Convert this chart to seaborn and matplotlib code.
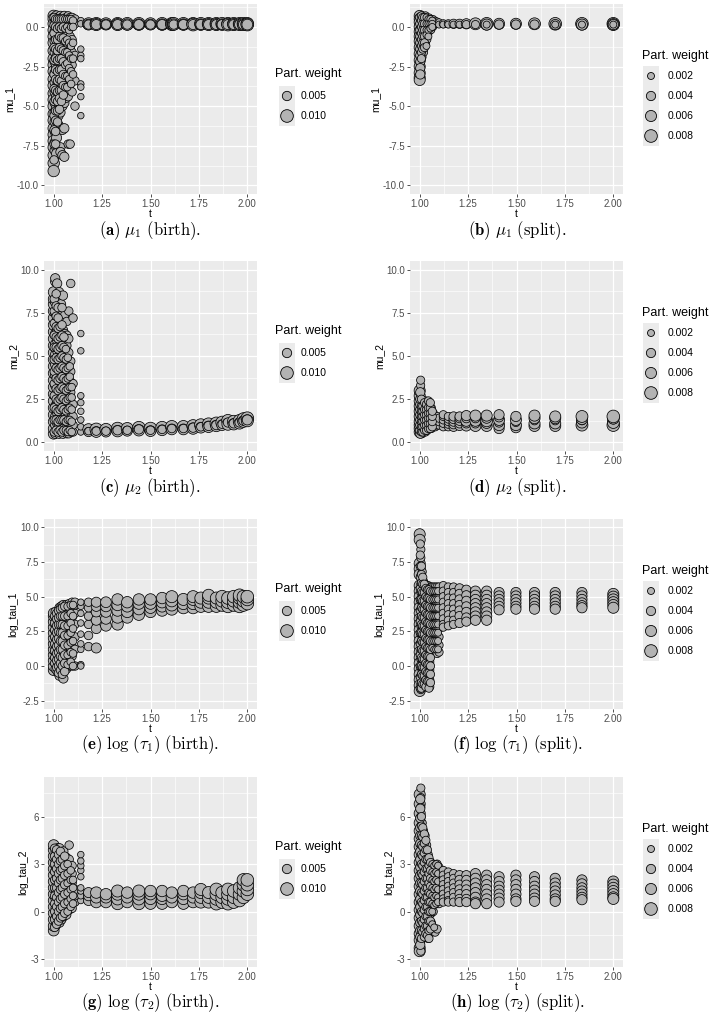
import pandas as pd
import matplotlib
matplotlib.use("Agg")
import matplotlib.pyplot as plt
from matplotlib.ticker import AutoMinorLocator, FormatStrFormatter
import seaborn as sns

# ---------------------------------------------------------------- data
# birth move, mu_1
T_A = [1.000, 1.005, 1.015, 1.025, 1.035, 1.045, 1.055, 1.065, 1.075, 1.085, 1.095, 1.11, 1.14,
       1.002, 1.010, 1.020, 1.030, 1.040, 1.050, 1.060, 1.070, 1.080, 1.090, 1.100,
       1.18, 1.22, 1.27, 1.33, 1.38, 1.44, 1.50, 1.56, 1.61, 1.62, 1.67, 1.72, 1.76, 1.80, 1.84,
       1.87, 1.90, 1.93, 1.96, 1.98, 2.00]
Y_A = [
    [0.7, 0.5, 0.2, -0.2, -0.6, -1.0, -1.5, -2.0, -2.4, -2.8, -3.3, -3.7, -4.2, -4.6, -5.0, -5.5,
     -5.9, -6.4, -6.8, -7.2, -7.6, -8.1, -8.6, -9.1],
    [0.6, 0.3, -0.3, -0.9, -1.6, -2.2, -2.9, -3.5, -4.1, -4.8, -5.4, -6.0, -6.6, -7.3, -7.8],
    [0.7, 0.4, 0.0, -0.6, -1.2, -1.9, -2.5, -3.1, -3.8, -4.4, -5.1, -5.7, -6.3, -7.0, -7.6, -8.0],
    [0.6, 0.2, -0.5, -1.1, -1.8, -2.4, -3.0, -3.7, -4.3, -4.9, -5.6, -6.2],
    [0.7, 0.3, -0.2, -0.9, -1.6, -2.3, -3.0, -3.6, -4.2, -4.8, -5.4, -6.4, -7.6, -7.9],
    [0.6, 0.2, -0.4, -1.0, -1.7, -2.4, -3.1, -3.7, -4.4, -5.0, -6.5, -8.1],
    [0.7, 0.3, -0.3, -1.1, -1.9, -2.6, -3.3, -4.0, -4.8, -6.4, -8.2],
    [0.6, 0.2, -0.5, -1.3, -2.1, -2.8, -3.5, -4.2, -4.5],
    [0.7, 0.3, -0.4, -1.2, -2.0, -2.7, -3.4, -4.1, -4.4, -7.4],
    [0.6, 0.2, -0.6, -1.4, -2.2, -3.0, -3.5, -4.0, -7.4],
    [0.6, 0.2, -0.8, -1.6, -2.4, -3.3, -4.1],
    [0.5, 0.2, -1.8, -3.4, -5.0],
    [0.4, 0.2, -1.4, -1.8, -2.0, -3.6, -3.8, -4.4, -5.6],
    [0.6, 0.1, -0.4, -1.3, -2.1, -3.0, -3.9, -4.7, -5.6, -6.5, -7.4, -8.4],
    [0.5, 0.0, -0.8, -1.4, -2.0, -2.7, -3.3, -4.0, -4.6, -5.3, -5.9, -6.6, -7.4],
    [0.5, -0.1, -0.8, -1.5, -2.1, -2.8, -3.4, -4.1, -4.7, -5.3, -6.0],
    [0.5, 0.0, -0.6, -1.3, -2.0, -2.7, -3.3, -4.0, -4.5, -5.2],
    [0.5, -0.1, -0.7, -1.4, -2.0, -2.7, -3.4, -4.0, -4.7],
    [0.5, 0.0, -0.7, -1.5, -2.2, -3.0, -3.7, -4.3],
    [0.5, -0.1, -0.9, -1.6, -2.4, -3.1, -3.8],
    [0.5, 0.0, -0.8, -1.6, -2.3, -3.1, -3.8],
    [0.5, -0.2, -1.0, -1.8, -2.6, -3.3],
    [0.5, 0.0, -1.2, -2.0, -2.8, -3.6],
    [0.4, 0.0, -1.0, -2.0, -3.0],
    [0.2, 0.15, 0.15], [0.2, 0.15, 0.15], [0.2, 0.15, 0.15], [0.2, 0.15, 0.15],
    [0.2, 0.15, 0.15], [0.2, 0.15, 0.15], [0.2, 0.15, 0.15], [0.2, 0.15, 0.15],
    [0.2, 0.15, 0.15], [0.2, 0.15, 0.15], [0.2, 0.15, 0.15], [0.2, 0.15, 0.15],
    [0.2, 0.15, 0.15], [0.2, 0.15, 0.15], [0.2, 0.15, 0.15], [0.2, 0.15, 0.15],
    [0.2, 0.15, 0.15], [0.2, 0.15, 0.15], [0.2, 0.15, 0.15], [0.2, 0.15, 0.15],
    [0.2, 0.15, 0.15],
]
W_A = [0.008, 0.005, 0.006, 0.005, 0.005, 0.005, 0.005, 0.004, 0.004, 0.004, 0.004, 0.004, 0.002,
       0.004, 0.004, 0.004, 0.004, 0.004, 0.004, 0.003, 0.003, 0.003, 0.003, 0.003,
       [0.009, 0.007, 0.005], [0.011, 0.009, 0.006], [0.009, 0.007, 0.005],
       [0.011, 0.009, 0.006], [0.010, 0.008, 0.005], [0.010, 0.008, 0.006],
       [0.009, 0.007, 0.005], [0.010, 0.008, 0.006], [0.011, 0.009, 0.006],
       [0.010, 0.008, 0.005], [0.010, 0.008, 0.006], [0.013, 0.010, 0.006],
       [0.010, 0.008, 0.006], [0.011, 0.009, 0.006], [0.011, 0.009, 0.006],
       [0.010, 0.008, 0.006], [0.013, 0.010, 0.006], [0.011, 0.009, 0.006],
       [0.012, 0.009, 0.006], [0.011, 0.009, 0.006], [0.012, 0.010, 0.007]]

# split move, mu_1
T_B = [1.000, 1.005, 1.012, 1.02, 1.03, 1.04, 1.05, 1.06, 1.07, 1.08, 1.09, 1.10,
       1.003, 1.009, 1.016, 1.025, 1.035, 1.045, 1.055, 1.065,
       1.122, 1.148, 1.175, 1.206, 1.241, 1.288, 1.346, 1.41, 1.497, 1.593, 1.70, 1.838, 2.0]
Y_B = [
    [0.7, 0.5, 0.3, 0.0, -0.3, -0.6, -0.9, -1.3, -1.7, -2.1, -2.5, -2.9, -3.2, -3.35],
    [0.6, 0.3, -0.1, -0.5, -1.0, -1.4, -1.8],
    [0.7, 0.4, 0.1, -0.3, -0.7, -1.1, -1.5, -1.9],
    [0.6, 0.3, 0.0, -0.4, -0.8, -1.2, -1.6],
    [0.7, 0.4, 0.1, -0.3, -0.7, -1.0],
    [0.6, 0.3, 0.0, -0.4, -0.8],
    [0.6, 0.3, 0.0, -0.3],
    [0.5, 0.2, -0.2],
    [0.5, 0.2, 0.0],
    [0.4, 0.2],
    [0.35, 0.2],
    [0.3, 0.15],
    [0.6, 0.2, -0.2, -0.6, -1.0, -1.4, -1.8, -2.2, -2.6, -3.0],
    [0.7, 0.4, 0.0, -0.4, -0.8, -1.2, -1.6, -2.0],
    [0.6, 0.2, -0.2, -0.6, -1.0, -1.4],
    [0.6, 0.2, -0.2, -0.6, -1.0, -1.3],
    [0.6, 0.2, -0.2, -0.5, -1.2],
    [0.5, 0.2, -0.2, -0.6],
    [0.5, 0.2, -0.1],
    [0.4, 0.2, 0.0],
    [0.2, 0.15], [0.2, 0.15], [0.2, 0.15], [0.2, 0.15], [0.2, 0.15], [0.2, 0.15],
    [0.2, 0.15, 0.15], [0.2, 0.15], [0.2, 0.15], [0.2, 0.15], [0.2, 0.15, 0.15],
    [0.2, 0.15, 0.15], [0.2, 0.15, 0.15, 0.15],
]
W_B = [0.006, 0.003, 0.003, 0.003, 0.003, 0.002, 0.002, 0.002, 0.002, 0.002, 0.002, 0.002,
       0.004, 0.003, 0.003, 0.003, 0.002, 0.002, 0.002, 0.002,
       [0.003, 0.002], [0.003, 0.002], [0.004, 0.002], [0.004, 0.002], [0.005, 0.003],
       [0.007, 0.003], [0.009, 0.006, 0.002], [0.006, 0.004], [0.006, 0.004], [0.007, 0.004],
       [0.008, 0.005, 0.002], [0.008, 0.006, 0.002], [0.009, 0.007, 0.005, 0.002]]

# birth move, mu_2
T_C = [1.000, 1.008, 1.018, 1.028, 1.038, 1.048, 1.058, 1.068, 1.078, 1.088, 1.10, 1.14,
       1.003, 1.013, 1.023, 1.033, 1.043, 1.053, 1.063, 1.073, 1.083, 1.093,
       1.18, 1.22, 1.27, 1.33, 1.38, 1.44, 1.50, 1.56, 1.61, 1.67, 1.72, 1.76, 1.80, 1.84,
       1.87, 1.90, 1.93, 1.96, 1.98, 2.00]
Y_C = [
    [0.5, 0.8, 1.2, 1.6, 2.0, 2.4, 2.8, 3.2, 3.6, 4.0, 4.4, 4.8, 5.2, 5.6, 6.0, 6.4, 6.8, 7.2,
     7.6, 8.0, 8.3, 8.7],
    [0.5, 1.0, 1.5, 2.1, 2.7, 3.3, 3.9, 4.5, 5.1, 5.7, 6.3, 6.9, 7.5, 8.1, 9.3, 9.5],
    [0.6, 1.1, 1.7, 2.3, 2.9, 3.5, 4.1, 4.7, 5.3, 5.9, 6.5, 7.1, 7.7, 8.4, 9.2],
    [0.5, 0.9, 1.4, 2.0, 2.6, 3.2, 3.8, 4.4, 5.0, 5.6, 6.2, 6.8, 7.4, 8.7],
    [0.6, 1.0, 1.6, 2.2, 2.8, 3.4, 4.0, 4.6, 5.2, 5.8, 6.4, 7.0, 7.6, 8.0],
    [0.5, 1.1, 1.7, 2.3, 2.9, 3.5, 4.1, 4.7, 5.3, 5.9, 6.5, 7.1, 8.5],
    [0.6, 1.0, 1.5, 2.1, 2.7, 3.3, 3.9, 4.5, 5.1, 5.7, 6.3, 7.4],
    [0.5, 0.9, 1.4, 2.0, 2.6, 3.2, 3.8, 4.4, 5.0, 5.6, 6.2, 7.0],
    [0.5, 1.0, 1.6, 2.2, 2.8, 3.4, 4.0, 4.6, 5.2, 6.0, 7.6],
    [0.6, 1.1, 1.7, 2.3, 2.9, 3.5, 4.1, 4.7, 9.2],
    [0.6, 1.0, 1.5, 2.2, 3.4, 7.2],
    [0.6, 0.9, 1.3, 1.8, 2.3, 2.7, 5.3, 6.3],
    [0.6, 1.3, 2.0, 2.7, 3.4, 4.1, 4.8, 5.5, 6.2, 6.9, 7.6, 8.3],
    [0.7, 1.3, 1.9, 2.5, 3.1, 3.7, 4.3, 4.9, 5.5, 6.1, 6.7, 7.3, 7.9, 8.6],
    [0.6, 1.2, 1.8, 2.4, 3.0, 3.6, 4.2, 4.8, 5.4, 6.0, 6.6, 7.2, 7.8],
    [0.7, 1.3, 1.9, 2.5, 3.1, 3.7, 4.3, 4.9, 5.5, 6.1, 6.7],
    [0.6, 1.3, 2.0, 2.6, 3.2, 3.8, 4.4, 5.0, 5.6, 6.2, 6.8, 7.8],
    [0.7, 1.3, 1.9, 2.5, 3.1, 3.7, 4.3, 4.9, 5.5, 6.1],
    [0.7, 1.2, 1.8, 2.4, 3.0, 3.6, 4.2, 4.8, 5.4],
    [0.6, 1.3, 1.9, 2.5, 3.1, 3.7, 4.3, 4.9],
    [0.7, 1.3, 2.0, 2.6, 3.2, 3.8, 4.4],
    [0.6, 1.2, 1.9, 2.6, 3.2],
    [0.75, 0.6, 0.65], [0.75, 0.6, 0.65], [0.75, 0.6, 0.65], [0.8, 0.65, 0.7],
    [0.8, 0.65, 0.7], [0.85, 0.7, 0.75], [0.8, 0.65, 0.7], [0.85, 0.7, 0.75],
    [0.9, 0.75, 0.8], [0.9, 0.75, 0.8], [0.95, 0.8, 0.85], [1.0, 0.85, 0.9],
    [1.05, 0.9, 0.95], [1.1, 0.95, 1.0], [1.15, 1.0, 1.05], [1.25, 1.05, 1.15],
    [1.2, 1.05, 1.1], [1.25, 1.1, 1.15], [1.35, 1.2, 1.25], [1.4, 1.25, 1.3],
]
W_C = [0.007, 0.005, 0.005, 0.005, 0.005, 0.005, 0.004, 0.004, 0.004, 0.004, 0.004, 0.002,
       0.004, 0.004, 0.004, 0.004, 0.004, 0.004, 0.003, 0.003, 0.003, 0.003,
       [0.008, 0.005, 0.003], [0.010, 0.007, 0.004], [0.009, 0.006, 0.004],
       [0.011, 0.008, 0.005], [0.009, 0.006, 0.004], [0.011, 0.008, 0.005],
       [0.010, 0.007, 0.004], [0.010, 0.007, 0.004], [0.010, 0.007, 0.004],
       [0.010, 0.007, 0.004], [0.011, 0.008, 0.005], [0.010, 0.007, 0.004],
       [0.011, 0.008, 0.005], [0.011, 0.008, 0.005], [0.010, 0.007, 0.004],
       [0.014, 0.009, 0.005], [0.011, 0.008, 0.005], [0.012, 0.008, 0.005],
       [0.012, 0.008, 0.005], [0.012, 0.009, 0.006]]

# split move, mu_2
T_D = T_B
Y_D = [
    [0.6, 0.8, 1.0, 1.2, 1.5, 1.8, 2.1, 2.4, 2.7, 3.0],
    [0.5, 0.7, 0.9, 1.2, 1.5, 1.8, 2.1, 3.3, 3.6],
    [0.5, 0.8, 1.1, 1.4, 1.7, 2.0, 2.4],
    [0.6, 0.9, 1.2, 1.5, 1.8, 2.2],
    [0.6, 0.9, 1.2, 1.5, 1.8, 2.4],
    [0.7, 1.0, 1.3, 1.6, 1.9, 2.2],
    [0.8, 1.0, 1.3, 1.6, 1.9, 2.3],
    [0.8, 1.1, 1.4, 1.7, 2.0],
    [0.9, 1.1, 1.4, 1.7],
    [0.9, 1.2, 1.5],
    [1.0, 1.2, 1.5],
    [1.0, 1.2, 1.4],
    [0.5, 0.7, 1.0, 1.3, 1.6, 1.9, 2.2, 2.5, 2.9],
    [0.6, 0.9, 1.2, 1.5, 1.8, 2.1, 2.5],
    [0.6, 0.9, 1.2, 1.5, 1.8, 2.1],
    [0.7, 1.0, 1.3, 1.6, 1.9, 2.3],
    [0.7, 1.0, 1.3, 1.6, 1.9, 2.2],
    [0.8, 1.1, 1.4, 1.7, 2.0, 2.4],
    [0.8, 1.1, 1.4, 1.7, 2.0, 2.3],
    [0.9, 1.2, 1.5, 1.8],
    [0.9, 1.1, 1.3, 1.5, 1.6], [0.9, 1.05, 1.2, 1.35, 1.5], [0.9, 1.05, 1.2, 1.35, 1.5],
    [0.95, 1.1, 1.25, 1.4, 1.5], [0.95, 1.1, 1.25, 1.4, 1.55], [0.95, 1.1, 1.25, 1.4, 1.55],
    [0.95, 1.1, 1.25, 1.4, 1.55], [0.8, 1.0, 1.15, 1.3, 1.45, 1.6],
    [0.85, 1.0, 1.15, 1.3, 1.5], [0.95, 1.1, 1.25, 1.4, 1.55], [0.95, 1.1, 1.25, 1.4, 1.5],
    [1.0, 1.15, 1.25, 1.35, 1.5], [1.0, 1.15, 1.3, 1.4, 1.5],
]
W_D = [0.006, 0.003, 0.003, 0.003, 0.003, 0.003, 0.003, 0.003, 0.003, 0.003, 0.003, 0.003,
       0.004, 0.003, 0.003, 0.003, 0.003, 0.003, 0.003, 0.003,
       0.003, 0.003, 0.004, 0.004, [0.005, 0.004, 0.006, 0.004, 0.005],
       [0.006, 0.004, 0.006, 0.004, 0.006], [0.006, 0.005, 0.007, 0.005, 0.006],
       [0.005, 0.006, 0.004, 0.006, 0.004, 0.005], [0.005, 0.006, 0.003, 0.006, 0.005],
       [0.006, 0.006, 0.003, 0.006, 0.006], [0.006, 0.006, 0.003, 0.006, 0.006],
       [0.007, 0.006, 0.003, 0.006, 0.007], [0.008, 0.007, 0.003, 0.007, 0.008]]

# birth move, log_tau_1
T_E = [1.000, 1.01, 1.02, 1.03, 1.04, 1.05, 1.065, 1.08, 1.095, 1.11, 1.14,
       1.005, 1.015, 1.025, 1.035, 1.045, 1.057, 1.072, 1.088, 1.10,
       1.18, 1.22, 1.27, 1.33, 1.38, 1.44, 1.50, 1.56, 1.61, 1.67, 1.72, 1.76, 1.80, 1.84,
       1.87, 1.90, 1.93, 1.96, 1.98, 2.00]
Y_E = [
    [-0.3, 0.0, 0.4, 0.8, 1.2, 1.6, 2.0, 2.4, 2.8, 3.2, 3.6, 3.8],
    [-0.2, 0.2, 0.6, 1.0, 1.5, 2.0, 2.5, 3.0, 3.5, 3.9],
    [-0.4, 0.1, 0.6, 1.1, 1.6, 2.1, 2.6, 3.1, 3.6],
    [-0.7, -0.2, 0.3, 0.8, 1.4, 2.0, 2.6, 3.2, 3.8, 4.2],
    [-0.5, 0.2, 0.8, 1.4, 2.0, 2.6, 3.2, 3.8, 4.3],
    [-0.9, -0.3, 0.4, 1.0, 1.7, 2.4, 3.1, 3.8, 4.4],
    [-0.2, 0.4, 1.1, 1.8, 2.5, 3.2, 3.9, 4.4],
    [0.0, 0.7, 1.4, 2.1, 2.8, 3.5, 4.2, 4.5],
    [0.0, 0.7, 1.4, 2.1, 2.8, 3.5, 4.2, 4.6],
    [0.0, 1.2, 2.1, 3.0, 3.8, 4.4, 4.6],
    [0.1, 0.0, 1.2, 1.6, 2.3, 3.1, 3.8, 4.3, 4.6],
    [0.2, 0.6, 1.1, 1.6, 2.1, 2.6, 3.1, 3.6],
    [-0.1, 0.4, 0.9, 1.4, 1.9, 2.4, 2.9, 3.4, 3.8],
    [-0.5, 0.0, 0.5, 1.0, 1.5, 2.0, 2.5, 3.0, 3.5, 4.0],
    [-0.3, 0.2, 0.7, 1.2, 1.8, 2.4, 3.0, 3.6, 4.1],
    [-0.6, 0.0, 0.6, 1.2, 1.8, 2.4, 3.0, 3.6, 4.2],
    [-0.4, 0.2, 0.8, 1.5, 2.2, 2.9, 3.6, 4.3],
    [0.1, 0.8, 1.5, 2.2, 2.9, 3.6, 4.3],
    [0.3, 1.0, 1.7, 2.4, 3.1, 3.8, 4.4],
    [0.0, 0.9, 1.8, 2.7, 3.6, 4.4],
    [1.4, 2.2, 3.0, 3.6, 4.2, 4.6],
    [1.3, 2.7, 3.3, 3.9, 4.3, 4.6],
    [2.9, 3.4, 3.9, 4.3, 4.6],
    [3.0, 3.5, 4.0, 4.4, 4.8],
    [3.5, 3.9, 4.3, 4.6],
    [3.7, 4.1, 4.5, 4.8],
    [3.9, 4.2, 4.5, 4.8],
    [4.0, 4.3, 4.6, 4.9],
    [4.1, 4.4, 4.7, 5.0],
    [4.2, 4.5, 4.8],
    [4.2, 4.5, 4.8, 5.0],
    [4.3, 4.6, 4.9],
    [4.3, 4.6, 4.9, 5.1],
    [4.3, 4.6, 4.9],
    [4.4, 4.7, 5.0],
    [4.3, 4.6, 4.9],
    [4.4, 4.7, 5.0],
    [4.3, 4.6, 4.9, 5.1],
    [4.4, 4.7, 5.0],
    [4.5, 4.8, 5.0],
]
W_E = [0.007, 0.005, 0.005, 0.005, 0.005, 0.005, 0.005, 0.004, 0.004, 0.004, 0.002,
       0.004, 0.004, 0.004, 0.004, 0.004, 0.004, 0.003, 0.003, 0.003,
       0.004, 0.006, 0.007, 0.008, 0.008, 0.008, 0.008, 0.008, 0.009, 0.009, 0.009, 0.009,
       0.009, 0.009, 0.010, 0.010, 0.010, 0.010, 0.010, 0.011]

# split move, log_tau_1
T_F = [1.000, 1.006, 1.013, 1.02, 1.028, 1.036, 1.044, 1.052, 1.06, 1.07, 1.08, 1.09, 1.10,
       1.003, 1.009, 1.016, 1.024, 1.032, 1.040, 1.048, 1.056, 1.065, 1.075, 1.085, 1.095,
       1.122, 1.148, 1.175, 1.206, 1.241, 1.288, 1.346, 1.41, 1.497, 1.593, 1.70, 1.838, 2.0]
Y_F = [
    [9.5, 9.1, 7.4, 7.0, 6.6, 5.8, 5.4, 5.0, 4.6, 4.2, 3.8, 3.4, 3.0, 2.6, 2.2, 1.8, 1.4, 1.0,
     0.6, 0.2, -0.2, -0.6, -1.0, -1.4, -1.8],
    [8.4, 7.8, 7.2, 6.5, 5.9, 5.3, 4.7, 4.1, 3.5, 2.9, 2.3, 1.7, 1.1, 0.5, -0.1, -0.7, -1.3, -1.7],
    [6.8, 6.2, 5.6, 5.0, 4.4, 3.8, 3.2, 2.6, 2.0, 1.4, 0.8, 0.2, -0.4, -1.0, -1.5],
    [6.1, 5.6, 5.0, 4.4, 3.8, 3.2, 2.6, 2.0, 1.4, 0.8, 0.2, -0.4, -1.0, -1.5],
    [5.9, 5.3, 4.7, 4.1, 3.5, 2.9, 2.3, 1.7, 1.1, 0.5, -0.1, -0.7, -1.3],
    [5.8, 5.2, 4.6, 4.0, 3.4, 2.8, 2.2, 1.6, 1.0, 0.4, -0.2, -0.8, -1.4],
    [5.8, 5.2, 4.6, 4.0, 3.4, 2.8, 2.2, 1.6, 1.0, 0.4, -0.2, -0.8, -1.4],
    [5.7, 5.1, 4.5, 3.9, 3.3, 2.7, 2.1, 1.5, 0.9, 0.3, -0.3, -1.0, -1.5],
    [5.7, 5.1, 4.5, 3.9, 3.3, 2.7, 2.1, 1.5, 1.0],
    [5.7, 5.1, 4.5, 3.9, 3.3, 2.7, 2.1, 1.5],
    [5.7, 5.1, 4.5, 3.9, 3.3, 2.7, 2.1, 1.5, 1.1],
    [5.7, 5.1, 4.5, 3.9, 3.3, 2.7, 2.1, 1.5, 0.9],
    [5.7, 5.1, 4.5, 3.9, 3.3, 2.7, 2.1, 1.5, 1.0],
    [8.8, 8.0, 7.2, 6.4, 5.6, 4.8, 4.0, 3.2, 2.4, 1.6, 0.8, 0.0, -0.8, -1.6],
    [7.2, 6.6, 6.0, 5.4, 4.8, 4.2, 3.6, 3.0, 2.4, 1.8, 1.2, 0.6, 0.0, -0.6, -1.2, -1.6],
    [6.4, 5.9, 5.3, 4.7, 4.1, 3.5, 2.9, 2.3, 1.7, 1.1, 0.5, -0.1, -0.7, -1.3],
    [5.9, 5.3, 4.7, 4.1, 3.5, 2.9, 2.3, 1.7, 1.1, 0.5, -0.1, -0.7, -1.3],
    [5.6, 5.0, 4.4, 3.8, 3.2, 2.6, 2.0, 1.4, 0.8, 0.2, -0.4, -1.0, -1.5],
    [5.5, 4.9, 4.3, 3.7, 3.1, 2.5, 1.9, 1.3, 0.7, 0.1, -0.5, -1.1],
    [5.5, 4.9, 4.3, 3.7, 3.1, 2.5, 1.9, 1.3, 0.7, 0.1, -0.5, -1.1, -1.6],
    [5.4, 4.8, 4.2, 3.6, 3.0, 2.4, 1.8, 1.2, 0.6, 0.0, -0.6, -1.2],
    [5.4, 4.8, 4.2, 3.6, 3.0, 2.4, 1.8, 1.3],
    [5.4, 4.8, 4.2, 3.6, 3.0, 2.4, 1.8, 1.2],
    [5.4, 4.8, 4.2, 3.6, 3.0, 2.4, 1.8, 1.2],
    [5.4, 4.8, 4.2, 3.6, 3.0, 2.4, 1.8, 1.2],
    [5.8, 5.4, 5.0, 4.6, 4.2, 3.8, 3.4, 3.0, 2.8],
    [5.7, 5.3, 4.9, 4.5, 4.1, 3.7, 3.3, 2.9],
    [5.7, 5.3, 4.9, 4.5, 4.1, 3.7, 3.3, 3.0],
    [5.6, 5.2, 4.8, 4.4, 4.0, 3.6, 3.1],
    [5.5, 5.1, 4.7, 4.3, 3.9, 3.5, 3.2],
    [5.4, 5.1, 4.8, 4.5, 4.2, 3.9, 3.6, 3.3],
    [5.4, 5.1, 4.8, 4.5, 4.2, 3.9, 3.6, 3.3],
    [5.3, 5.05, 4.8, 4.55, 4.3, 4.05],
    [5.3, 5.05, 4.8, 4.55, 4.3, 4.1],
    [5.3, 5.05, 4.8, 4.55, 4.3, 4.1],
    [5.3, 5.05, 4.8, 4.55, 4.3, 4.1],
    [5.3, 5.05, 4.8, 4.55, 4.35, 4.2],
    [5.2, 5.0, 4.8, 4.6, 4.4, 4.2],
]
W_F = [0.006, 0.003, 0.003, 0.003, 0.003, 0.003, 0.003, 0.003, 0.003, 0.003, 0.003, 0.003, 0.003,
       0.003, 0.003, 0.003, 0.003, 0.003, 0.003, 0.003, 0.003, 0.002, 0.002, 0.002, 0.002,
       0.003, 0.003, 0.003, 0.004, 0.004, 0.005, 0.005, 0.005, 0.005, 0.005, 0.005, 0.005, 0.006]

# birth move, log_tau_2
T_G = [1.000, 1.01, 1.02, 1.03, 1.04, 1.05, 1.065, 1.08, 1.095, 1.11, 1.14,
       1.005, 1.015, 1.025, 1.035, 1.045, 1.057, 1.072, 1.088, 1.10,
       1.18, 1.22, 1.27, 1.33, 1.38, 1.44, 1.50, 1.56, 1.61, 1.67, 1.72, 1.76, 1.80, 1.84,
       1.87, 1.90, 1.93, 1.96, 1.98, 2.00]
Y_G = [
    [-1.2, -0.9, -0.5, -0.1, 0.3, 0.7, 1.1, 1.5, 1.9, 2.3, 2.7, 3.1, 3.5, 3.9, 4.2],
    [-0.9, -0.4, 0.2, 0.8, 1.4, 2.0, 2.6, 3.2, 3.8],
    [-0.6, -0.1, 0.5, 1.1, 1.7, 2.3, 2.9, 3.5, 4.0],
    [-0.7, -0.2, 0.4, 1.0, 1.6, 2.2, 2.8, 3.4, 4.0],
    [-0.5, 0.1, 0.7, 1.3, 1.9, 2.5, 3.1, 3.7],
    [-0.3, 0.3, 0.9, 1.5, 2.1, 2.7, 3.3, 3.8],
    [-0.2, 0.4, 1.0, 1.6, 2.2, 2.8, 3.4],
    [0.1, 0.6, 1.1, 1.7, 2.3, 2.9, 3.3, 4.2],
    [0.2, 0.7, 1.2, 1.8, 2.4, 2.9],
    [0.6, 1.0, 1.4],
    [0.7, 1.0, 1.3, 1.5, 2.2, 2.6, 2.9, 3.2, 3.6],
    [-1.0, -0.5, 0.0, 0.5, 1.0, 1.5, 2.0, 2.5, 3.0, 3.5, 4.0],
    [-0.8, -0.3, 0.3, 0.9, 1.5, 2.1, 2.7, 3.3, 3.9],
    [-0.6, 0.0, 0.6, 1.2, 1.8, 2.4, 3.0, 3.6],
    [-0.4, 0.2, 0.8, 1.4, 2.0, 2.6, 3.2, 3.8],
    [-0.3, 0.3, 0.9, 1.5, 2.1, 2.7, 3.3],
    [-0.1, 0.5, 1.1, 1.7, 2.3, 2.9, 3.5],
    [0.0, 0.6, 1.2, 1.8, 2.4, 3.0],
    [0.3, 0.8, 1.4, 2.0, 2.6],
    [0.5, 1.0, 1.5, 2.0],
    [0.7, 1.0, 1.2], [0.6, 0.9, 1.2], [0.6, 0.9, 1.1], [0.5, 0.8, 1.1, 1.3], [0.6, 0.9, 1.2],
    [0.5, 0.8, 1.1, 1.3], [0.5, 0.8, 1.1, 1.3], [0.5, 0.8, 1.0, 1.3], [0.6, 0.9, 1.2],
    [0.5, 0.8, 1.1, 1.3], [0.6, 0.9, 1.2], [0.6, 0.9, 1.2, 1.4], [0.6, 0.9, 1.2],
    [0.5, 0.8, 1.1, 1.4], [0.6, 0.9, 1.2], [0.5, 0.8, 1.1, 1.4], [0.6, 0.9, 1.3],
    [0.7, 1.1, 1.5], [0.9, 1.3, 1.7, 2.0], [1.1, 1.4, 1.7, 2.0],
]
W_G = [0.007, 0.005, 0.005, 0.005, 0.005, 0.005, 0.005, 0.004, 0.004, 0.004, 0.002,
       0.004, 0.004, 0.004, 0.004, 0.004, 0.004, 0.003, 0.003, 0.003,
       0.006, 0.008, 0.008, 0.009, 0.008, 0.009, 0.008, 0.008, 0.008, 0.008, 0.008, 0.009,
       0.009, 0.010, 0.010, 0.010, 0.010, 0.010, 0.010, 0.011]

# split move, log_tau_2
T_H = T_F
Y_H = [
    [7.4, 6.8, 6.2, 5.6, 5.1, 4.6, 4.1, 3.6, 3.1, 2.6, 2.1, 1.6, 1.1, 0.6, 0.1, -0.4, -0.9,
     -1.4, -1.8, -2.3, -2.5],
    [7.8, 7.2, 6.6, 6.0, 5.4, 4.8, 4.2, 3.6, 3.0, 2.4, 1.8, 1.2, 0.6, 0.0, -0.6, -1.2, -1.8, -2.5],
    [5.6, 5.0, 4.4, 3.8, 3.2, 2.6, 2.0, 1.4, 0.8, 0.2, -0.4, -1.0, -1.6],
    [5.1, 4.5, 3.9, 3.3, 2.7, 2.1, 1.5, 0.9, 0.3, -0.3, -0.9, -1.5],
    [4.8, 4.2, 3.6, 3.0, 2.4, 1.8, 1.2, 0.6, 0.0, -0.6, -1.2],
    [4.2, 3.6, 3.0, 2.4, 1.8, 1.2, 0.6, 0.0, -0.6, -1.3],
    [3.6, 3.1, 2.5, 1.9, 1.3, 0.7, 0.1, -0.5, -1.1, -1.7],
    [3.2, 2.7, 2.2, 1.6, 1.0, 0.4, -0.2, -0.8, -1.4],
    [3.0, 2.5, 2.0, 1.5, 1.0, 0.5, -0.1, -0.7],
    [3.0, 2.5, 2.0, 1.5, 1.0, 0.5, 0.0, -1.2],
    [2.9, 2.4, 1.9, 1.4, 0.9, 0.5, -1.3],
    [3.0, 2.5, 2.0, 1.5, 1.0, 0.5, -1.1],
    [2.8, 2.3, 1.8, 1.3, 0.8, 0.5],
    [7.1, 6.5, 5.9, 5.3, 4.8, 4.3, 3.8, 3.3, 2.8, 2.3, 1.8, 1.3, 0.8, 0.3, -0.2, -0.7, -1.2,
     -1.6, -2.1],
    [6.0, 5.4, 4.8, 4.2, 3.6, 3.0, 2.4, 1.8, 1.2, 0.6, 0.0, -0.6, -1.2, -1.7],
    [5.3, 4.7, 4.1, 3.5, 2.9, 2.3, 1.7, 1.1, 0.5, -0.1, -0.7, -1.3],
    [4.9, 4.3, 3.7, 3.1, 2.5, 1.9, 1.3, 0.7, 0.1, -0.5, -1.1, -1.6],
    [4.5, 3.9, 3.3, 2.7, 2.1, 1.5, 0.9, 0.3, -0.3, -0.9, -1.4],
    [3.9, 3.3, 2.7, 2.1, 1.5, 0.9, 0.3, -0.3, -0.9, -1.5],
    [3.4, 2.9, 2.4, 1.8, 1.2, 0.6, 0.0, -0.6, -1.2, -1.7],
    [3.1, 2.6, 2.1, 1.6, 1.1, 0.6, 0.0, -0.6, -1.1],
    [3.0, 2.5, 2.0, 1.5, 1.0, 0.5, 0.0, -0.8],
    [2.9, 2.4, 1.9, 1.4, 0.9, 0.4, -1.0],
    [3.0, 2.5, 2.0, 1.5, 1.0, 0.5],
    [2.9, 2.4, 1.9, 1.4, 0.9, 0.6],
    [2.6, 2.3, 2.0, 1.7, 1.4, 1.1, 0.8, 0.6],
    [2.5, 2.2, 1.9, 1.6, 1.3, 1.0, 0.7, 0.6],
    [2.4, 2.1, 1.8, 1.5, 1.2, 0.9, 0.6],
    [2.3, 2.0, 1.7, 1.4, 1.1, 0.8, 0.6],
    [2.3, 2.0, 1.7, 1.4, 1.1, 0.8, 0.6],
    [2.4, 2.1, 1.8, 1.5, 1.2, 0.9, 0.6, 0.5],
    [2.3, 2.0, 1.7, 1.4, 1.1, 0.8, 0.5],
    [2.2, 1.9, 1.6, 1.35, 1.1, 0.85, 0.6],
    [2.3, 2.0, 1.7, 1.4, 1.1, 0.8, 0.65],
    [2.2, 1.9, 1.6, 1.35, 1.1, 0.85, 0.65],
    [2.1, 1.8, 1.55, 1.3, 1.05, 0.8, 0.65],
    [2.0, 1.75, 1.5, 1.3, 1.1, 0.9, 0.75],
    [1.9, 1.7, 1.5, 1.3, 1.1, 0.9, 0.8],
]
W_H = [0.006, 0.003, 0.003, 0.003, 0.003, 0.003, 0.003, 0.003, 0.003, 0.003, 0.003, 0.003, 0.003,
       0.004, 0.003, 0.003, 0.003, 0.003, 0.003, 0.003, 0.003, 0.002, 0.002, 0.002, 0.002,
       0.003, 0.003, 0.003, 0.004, 0.004, 0.005, 0.005, 0.005, 0.005, 0.005, 0.005, 0.005, 0.006]

BIRTH_KEYS = [0.005, 0.010]
SPLIT_KEYS = [0.002, 0.004, 0.006, 0.008]

# ---------------------------------------------------------------- style
FILL = '#B3B3B3'
PANEL_BG = '#EBEBEB'
plt.rcParams['font.family'] = ['Liberation Sans', 'DejaVu Sans']
plt.rcParams['mathtext.fontset'] = 'cm'

# size scales (area linear in weight)
BIRTH_SIZES = dict(sizes=(7, 83), size_norm=(0, 0.010))
SPLIT_SIZES = dict(sizes=(6, 83), size_norm=(0, 0.008))

W_PX, H_PX = 709.0, 1016.0


def build(T, Y, W):
    rows = []
    for t, ys, w in zip(T, Y, W):
        ws = w if isinstance(w, list) else [w] * len(ys)
        for y, wi in zip(ys, ws):
            rows.append((t, y, wi))
    return pd.DataFrame(rows, columns=['t', 'value', 'weight'])


def style_axis(ax, ylabel, ylim, yticks, yfmt):
    ax.set_facecolor(PANEL_BG)
    for s in ax.spines.values():
        s.set_visible(False)
    ax.set_xlim(0.95, 2.05)
    ax.set_ylim(*ylim)
    ax.set_xticks([1.0, 1.25, 1.5, 1.75, 2.0])
    ax.set_yticks(yticks)
    ax.xaxis.set_major_formatter(FormatStrFormatter('%.2f'))
    ax.yaxis.set_major_formatter(FormatStrFormatter(yfmt))
    ax.xaxis.set_minor_locator(AutoMinorLocator(2))
    ax.yaxis.set_minor_locator(AutoMinorLocator(2))
    ax.grid(which='major', color='white', linewidth=0.9)
    ax.grid(which='minor', color='white', linewidth=0.45)
    ax.set_axisbelow(True)
    ax.tick_params(which='major', length=2.2, width=0.6, color='#333333',
                   labelsize=7, labelcolor='#4D4D4D', pad=1.5)
    ax.tick_params(which='minor', length=0)
    ax.set_xlabel('t', fontsize=7.5, labelpad=0)
    ax.set_ylabel(ylabel, fontsize=7.5, labelpad=1.5)


def draw_legend(fig, title_x, title_y, key_x, key_top, label_x, keys, size_kw):
    fig.text(title_x / W_PX, 1 - title_y / H_PX, 'Part. weight', fontsize=9,
             ha='left', va='center')
    n = len(keys)
    lax = fig.add_axes([key_x / W_PX, 1 - (key_top + 20 * n) / H_PX, 16 / W_PX, 20 * n / H_PX])
    lax.set_facecolor(PANEL_BG)
    for s in lax.spines.values():
        s.set_visible(False)
    lax.set_xticks([])
    lax.set_yticks([])
    kdf = pd.DataFrame({'x': [0.5] * n, 'y': [n - 0.5 - i for i in range(n)], 'weight': keys})
    sns.scatterplot(data=kdf, x='x', y='y', size='weight', color=FILL, edgecolor='black',
                    linewidth=0.6, legend=False, ax=lax, clip_on=False, **size_kw)
    lax.set_xlim(0, 1)
    lax.set_ylim(0, n)
    lax.set_xlabel('')
    lax.set_ylabel('')
    for i, k in enumerate(keys):
        fig.text(label_x / W_PX, 1 - (key_top + 20 * i + 10) / H_PX, f'{k:.3f}',
                 fontsize=7.5, color='black', ha='left', va='center')


panels = [
    (T_A, Y_A, W_A, 'mu_1', (-10.55, 1.45), [-10, -7.5, -5, -2.5, 0], '%.1f',
     r'$\mathbf{(a)}\ \mu_1\ \mathrm{(birth).}$', 'birth'),
    (T_B, Y_B, W_B, 'mu_1', (-10.55, 1.45), [-10, -7.5, -5, -2.5, 0], '%.1f',
     r'$\mathbf{(b)}\ \mu_1\ \mathrm{(split).}$', 'split'),
    (T_C, Y_C, W_C, 'mu_2', (-0.5, 10.5), [0, 2.5, 5, 7.5, 10], '%.1f',
     r'$\mathbf{(c)}\ \mu_2\ \mathrm{(birth).}$', 'birth'),
    (T_D, Y_D, W_D, 'mu_2', (-0.5, 10.5), [0, 2.5, 5, 7.5, 10], '%.1f',
     r'$\mathbf{(d)}\ \mu_2\ \mathrm{(split).}$', 'split'),
    (T_E, Y_E, W_E, 'log_tau_1', (-3.1, 10.6), [-2.5, 0, 2.5, 5, 7.5, 10], '%.1f',
     r'$\mathbf{(e)}\ \log\,(\tau_1)\ \mathrm{(birth).}$', 'birth'),
    (T_F, Y_F, W_F, 'log_tau_1', (-3.1, 10.6), [-2.5, 0, 2.5, 5, 7.5, 10], '%.1f',
     r'$\mathbf{(f)}\ \log\,(\tau_1)\ \mathrm{(split).}$', 'split'),
    (T_G, Y_G, W_G, 'log_tau_2', (-3.5, 8.5), [-3, 0, 3, 6], '%d',
     r'$\mathbf{(g)}\ \log\,(\tau_2)\ \mathrm{(birth).}$', 'birth'),
    (T_H, Y_H, W_H, 'log_tau_2', (-3.5, 8.5), [-3, 0, 3, 6], '%d',
     r'$\mathbf{(h)}\ \log\,(\tau_2)\ \mathrm{(split).}$', 'split'),
]

fig = plt.figure(figsize=(7.09, 10.16), dpi=100)
row_top = [4, 261, 519, 777]
row_h = 190
col_left = [44, 410]
col_w = 213
caption_y = [231, 488, 745, 1003]
caption_x = [150, 517]

for i, (T, Y, W, ylabel, ylim, yticks, yfmt, caption, kind) in enumerate(panels):
    r, c = divmod(i, 2)
    ax = fig.add_axes([col_left[c] / W_PX, 1 - (row_top[r] + row_h) / H_PX,
                       col_w / W_PX, row_h / H_PX])
    df = build(T, Y, W)
    size_kw = BIRTH_SIZES if kind == 'birth' else SPLIT_SIZES
    sns.scatterplot(data=df, x='t', y='value', size='weight', color=FILL, edgecolor='black',
                    linewidth=0.55, legend=False, ax=ax, **size_kw)
    style_axis(ax, ylabel, ylim, yticks, yfmt)
    fig.text(caption_x[c] / W_PX, 1 - caption_y[r] / H_PX, caption, fontsize=12,
             ha='center', va='center')
    top = row_top[r]
    if kind == 'birth':
        draw_legend(fig, 275, top + 70, 279, top + 82, 301, BIRTH_KEYS, size_kw)
    else:
        draw_legend(fig, 642, top + 52, 643, top + 62, 668, SPLIT_KEYS, size_kw)

fig.savefig('out.png', dpi=100)
